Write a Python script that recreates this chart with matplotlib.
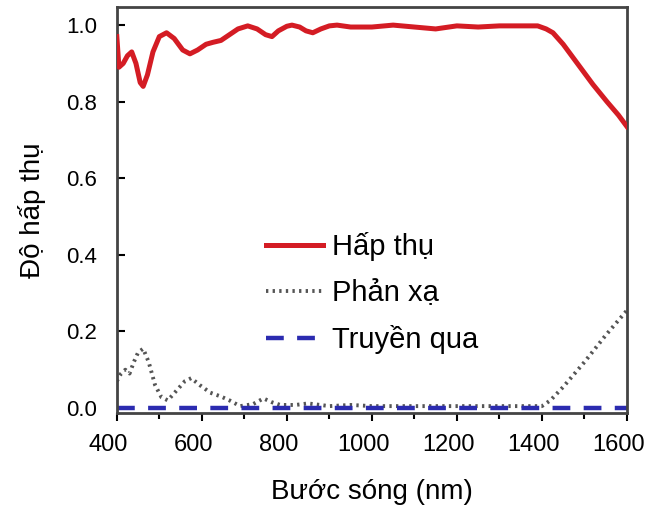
import matplotlib
matplotlib.use('Agg')
import matplotlib.pyplot as plt
from matplotlib.ticker import MultipleLocator
from matplotlib.transforms import ScaledTranslation

plt.rcParams['font.family'] = ['Liberation Sans', 'DejaVu Sans']

# absorption (red solid)
abs_wl = [400, 405, 415, 425, 435, 445, 455, 462, 472, 485, 500, 517, 535, 555, 572,
          590, 610, 626, 645, 665, 685, 708, 730, 750, 765, 780, 800, 812, 830, 845,
          861, 880, 900, 918, 950, 1000, 1050, 1100, 1150, 1200, 1250, 1300, 1350,
          1390, 1410, 1426, 1450, 1470, 1490, 1520, 1553, 1580, 1600]
abs_val = [0.97, 0.89, 0.90, 0.92, 0.93, 0.90, 0.85, 0.84, 0.87, 0.93, 0.97, 0.98, 0.965,
           0.935, 0.925, 0.935, 0.95, 0.955, 0.96, 0.975, 0.99, 0.998, 0.99, 0.975, 0.97,
           0.985, 0.997, 1.0, 0.995, 0.985, 0.98, 0.99, 0.998, 1.0, 0.995, 0.995, 1.0,
           0.995, 0.99, 0.998, 0.995, 0.998, 0.998, 0.998, 0.99, 0.98, 0.95, 0.92, 0.89,
           0.845, 0.80, 0.765, 0.735]

# reflection (grey dotted)
ref_wl = [400, 410, 420, 430, 440, 450, 462, 475, 490, 505, 520, 540, 560, 575, 595,
          620, 645, 665, 690, 720, 745, 765, 785, 820, 850, 900, 950, 1000, 1100, 1200,
          1300, 1400, 1420, 1450, 1500, 1550, 1600]
ref_val = [0.07, 0.09, 0.10, 0.09, 0.12, 0.145, 0.155, 0.12, 0.06, 0.028, 0.02, 0.045,
           0.07, 0.078, 0.06, 0.04, 0.03, 0.02, 0.005, 0.01, 0.025, 0.015, 0.008, 0.008,
           0.012, 0.005, 0.008, 0.005, 0.005, 0.005, 0.005, 0.005, 0.02, 0.055, 0.12,
           0.19, 0.255]

# transmission (blue dashed)
tra_wl = [400, 600, 800, 1000, 1200, 1400, 1600]
tra_val = [0.0, 0.0, 0.0, 0.0, 0.0, 0.0, 0.0]

fig = plt.figure(figsize=(6.49, 5.08), dpi=100)
ax = fig.add_axes([0.180, 0.187, 0.786, 0.799])

ax.plot(abs_wl, abs_val, color='#d41c24', lw=3.6, label='Hấp thụ', zorder=3)
ax.plot(ref_wl, ref_val, color='#555555', lw=2.8, linestyle=(0, (0.6, 1.1)),
        label='Phản xạ', zorder=2)
ax.plot(tra_wl, tra_val, color='#2b2bb0', lw=3.2, linestyle=(0, (4, 3)),
        label='Truyền qua', zorder=2)

ax.set_xlim(400, 1600)
ax.set_ylim(-0.013, 1.047)
ax.set_xticks([400, 600, 800, 1000, 1200, 1400, 1600])
ax.xaxis.set_minor_locator(MultipleLocator(100))
ax.set_yticks([0.0, 0.2, 0.4, 0.6, 0.8, 1.0])
ax.set_yticklabels(['0.0', '0.2', '0.4', '0.6', '0.8', '1.0'])
ax.tick_params(axis='x', direction='out', length=6, width=1.5, labelsize=17, pad=9)
ax.tick_params(axis='x', which='minor', direction='out', length=4, width=1.5)
ax.tick_params(axis='y', direction='in', length=6, width=1.5, labelsize=16, pad=14)
for s in ax.spines.values():
    s.set_color('#444444')
    s.set_linewidth(2)

# labels sit a little left of their ticks in the original
shift = ScaledTranslation(-6 / 72, 0, fig.dpi_scale_trans)
for lab in ax.get_xticklabels():
    lab.set_transform(lab.get_transform() + shift)

ax.set_xlabel('Bước sóng (nm)', fontsize=20, labelpad=17)
ax.set_ylabel('Độ hấp thụ', fontsize=20, labelpad=15)

ax.legend(loc='center left', bbox_to_anchor=(0.241, 0.296), frameon=False, fontsize=21,
          handlelength=1.95, handletextpad=0.3, labelspacing=0.62)

fig.savefig('out.png', dpi=100)
